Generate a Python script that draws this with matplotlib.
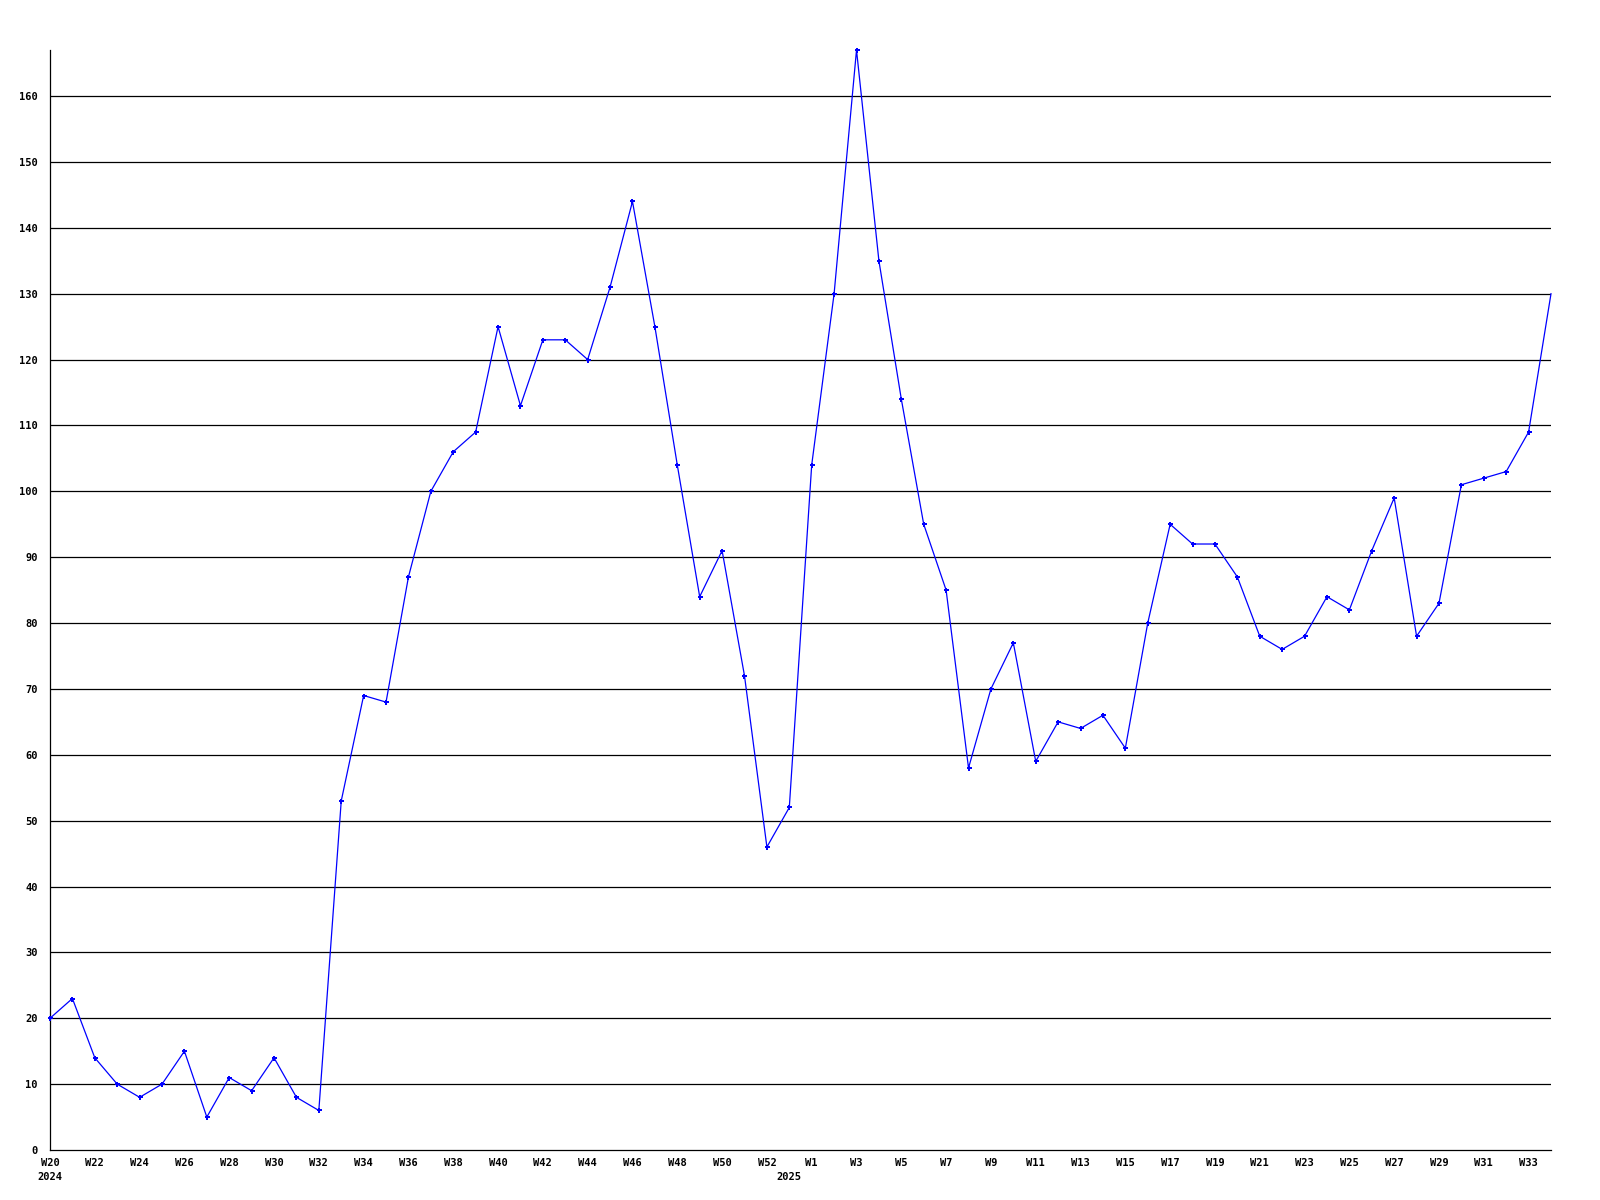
import matplotlib
matplotlib.use("Agg")
import matplotlib.pyplot as plt

weeks = ["W20", "W21", "W22", "W23", "W24", "W25", "W26", "W27", "W28", "W29", "W30",
         "W31", "W32", "W33", "W34", "W35", "W36", "W37", "W38", "W39", "W40", "W41",
         "W42", "W43", "W44", "W45", "W46", "W47", "W48", "W49", "W50", "W51", "W52",
         "W53",
         "W1", "W2", "W3", "W4", "W5", "W6", "W7", "W8", "W9", "W10", "W11", "W12",
         "W13", "W14", "W15", "W16", "W17", "W18", "W19", "W20", "W21", "W22", "W23",
         "W24", "W25", "W26", "W27", "W28", "W29", "W30", "W31", "W32", "W33", "W34"]
values = [20, 23, 14, 10, 8, 10, 15, 5, 11, 9, 14,
          8, 6, 53, 69, 68, 87, 100, 106, 109, 125, 113,
          123, 123, 120, 131, 144, 125, 104, 84, 91, 72, 46,
          52,
          104, 130, 167, 135, 114, 95, 85, 58, 70, 77, 59, 65,
          64, 66, 61, 80, 95, 92, 92, 87, 78, 76, 78,
          84, 82, 91, 99, 78, 83, 101, 102, 103, 109, 130]
year_labels = {0: "2024", 33: "2025"}
yticks = list(range(0, 161, 10))

font = "DejaVu Sans Mono"
fs = 7.5

fig = plt.figure(figsize=(16, 12), dpi=100)
ax = fig.add_axes([50 / 1600, 50 / 1200, 1501 / 1600, 1100 / 1200])

x = list(range(len(values)))
for yv in yticks[1:]:
    ax.axhline(yv, color="black", linewidth=0.9, zorder=1)
ax.plot(x, values, color="#0000ff", linewidth=0.9, marker="P", markersize=3.6,
        markeredgewidth=0, zorder=3, markevery=list(range(len(values) - 1)),
        clip_on=False)

ax.set_xlim(0, len(values) - 1)
ax.set_ylim(0, 167)
ax.set_yticks(yticks)
ax.set_yticklabels([str(v) for v in yticks], fontfamily=font, fontweight="bold", fontsize=fs)
tick_idx = [i for i in x if i % 2 == 0]
ax.set_xticks(tick_idx)
ax.set_xticklabels([weeks[i] for i in tick_idx], fontfamily=font, fontweight="bold", fontsize=fs)
ax.tick_params(axis="both", length=0)
ax.tick_params(axis="y", pad=9)
ax.tick_params(axis="x", pad=6)

for side in ["top", "right"]:
    ax.spines[side].set_visible(False)
for side in ["left", "bottom"]:
    ax.spines[side].set_linewidth(0.9)
    ax.spines[side].set_color("black")

for i, lab in year_labels.items():
    ax.annotate(lab, xy=(i, 0), xycoords=("data", "axes fraction"), xytext=(0, -22),
                textcoords="offset pixels", ha="center", va="top",
                fontfamily=font, fontweight="bold", fontsize=fs)

fig.savefig("out.png", dpi=100)
